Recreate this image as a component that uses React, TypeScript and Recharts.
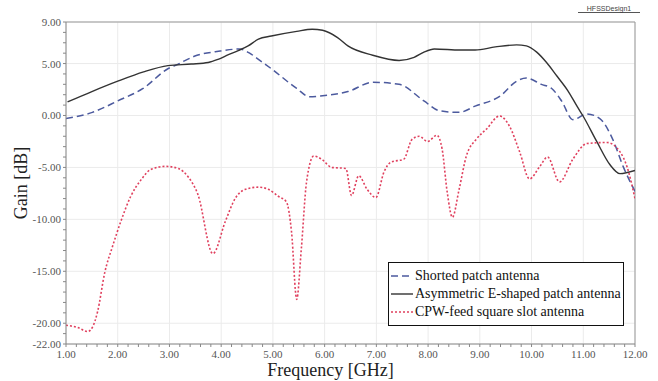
import { LineChart, Line, XAxis, YAxis, CartesianGrid, ReferenceLine } from 'recharts'

// Gain curves (GHz, dB)
const shortedFreq = [1.0, 1.51, 2.0, 2.49, 2.97, 3.17, 3.48, 3.98, 4.35, 4.55, 4.72, 4.97, 5.46, 5.71, 5.96, 6.45, 6.93, 7.44, 7.92, 8.22, 8.6, 8.91, 9.4, 9.71, 9.9, 10.19, 10.39, 10.58, 10.8, 11.07, 11.32, 11.57, 11.77, 12.0]
const shortedGain = [-0.3, 0.3, 1.4, 2.6, 4.5, 4.95, 5.7, 6.2, 6.4, 6.0, 5.4, 4.5, 2.6, 1.8, 1.9, 2.3, 3.2, 3.0, 1.4, 0.45, 0.3, 0.9, 1.9, 3.3, 3.6, 3.0, 2.6, 1.4, -0.4, 0.15, -0.3, -2.3, -4.9, -7.3]

const eShapedFreq = [1.03, 1.5, 2.0, 2.5, 2.97, 3.42, 3.75, 3.94, 4.14, 4.33, 4.52, 4.72, 4.97, 5.46, 5.76, 5.96, 6.25, 6.45, 6.93, 7.44, 7.73, 7.92, 8.12, 8.62, 8.91, 9.3, 9.71, 9.9, 10.1, 10.29, 10.49, 10.7, 10.89, 10.99, 11.26, 11.51, 11.71, 12.0]
const eShapedGain = [1.3, 2.3, 3.3, 4.2, 4.8, 4.95, 5.1, 5.4, 5.85, 6.25, 6.7, 7.35, 7.65, 8.1, 8.3, 8.2, 7.5, 6.7, 5.8, 5.3, 5.6, 6.1, 6.4, 6.3, 6.3, 6.6, 6.8, 6.7, 6.1, 5.1, 3.8, 2.4, 0.8, 0.0, -2.5, -4.7, -5.6, -5.3]

const cpwFreq = [1.0, 1.22, 1.42, 1.51, 1.61, 1.75, 1.9, 2.06, 2.25, 2.45, 2.64, 2.93, 3.17, 3.36, 3.55, 3.84, 4.08, 4.27, 4.47, 4.72, 4.91, 5.11, 5.26, 5.36, 5.46, 5.55, 5.65, 5.79, 5.94, 6.14, 6.41, 6.52, 6.66, 6.82, 6.99, 7.15, 7.28, 7.53, 7.69, 7.83, 7.99, 8.17, 8.27, 8.37, 8.47, 8.6, 8.74, 8.93, 9.13, 9.38, 9.57, 9.77, 9.96, 10.16, 10.31, 10.54, 10.8, 11.07, 11.46, 11.71, 11.85, 12.0]
const cpwGain = [-20.2, -20.4, -20.8, -20.4, -18.9, -15.1, -12.6, -10.2, -7.8, -6.2, -5.2, -4.9, -5.1, -5.9, -7.6, -13.3, -10.2, -8.0, -7.1, -6.9, -7.1, -7.8, -8.3, -11.2, -17.7, -12.8, -6.4, -3.9, -4.2, -5.0, -5.1, -7.7, -5.8, -7.1, -7.9, -5.4, -4.5, -4.2, -2.3, -2.0, -2.5, -1.9, -3.2, -7.4, -9.8, -7.1, -3.9, -2.3, -1.3, -0.05, -1.0, -3.5, -6.1, -4.9, -4.0, -6.4, -4.2, -2.7, -2.6, -3.5, -5.0, -8.0]

const xMajor = [1, 2, 3, 4, 5, 6, 7, 8, 9, 10, 11, 12]
const yMajor = [-22, -20, -15, -10, -5, 0, 5, 9]

// minor tick marks: 0.2 GHz and 1 dB
const xTicks = Array.from({ length: 56 }, (_, i) => (10 + 2 * i) / 10)
const yTicks = Array.from({ length: 32 }, (_, i) => -22 + i)

const toPoints = (fs: number[], gs: number[]) => fs.map((f, i) => ({ f, g: gs[i] }))

const series = [
  { name: 'Shorted patch antenna', data: toPoints(shortedFreq, shortedGain), color: '#4c5a9e', dash: '7 4', width: 1.5 },
  { name: 'Asymmetric E-shaped patch antenna', data: toPoints(eShapedFreq, eShapedGain), color: '#333333', dash: undefined, width: 1.4 },
  { name: 'CPW-feed square slot antenna', data: toPoints(cpwFreq, cpwGain), color: '#e0405e', dash: '2 2', width: 1.6 },
]

const serif = '"Liberation Serif", "Times New Roman", serif'
const tickText = { fontFamily: serif, fontSize: 11, fill: '#555' }

const XTick = ({ x, y, payload }: any) => {
  const v = payload.value as number
  if (!Number.isInteger(v)) return null
  return (
    <text x={x} y={y + 9} textAnchor="middle" style={tickText}>
      {v.toFixed(2)}
    </text>
  )
}

const YTick = ({ x, y, payload }: any) => {
  const v = payload.value as number
  if (!yMajor.includes(v)) return null
  return (
    <text x={x} y={y + 4} textAnchor="end" style={tickText}>
      {v.toFixed(2)}
    </text>
  )
}

export default function App() {
  return (
    <div style={{ position: 'absolute', left: 0, top: 0, width: 658, height: 381, background: '#fff', fontFamily: serif }}>
      <LineChart width={658} height={381} margin={{ top: 22, right: 23, bottom: 0, left: 0 }}>
        <CartesianGrid stroke="#ebebeb" horizontalValues={yMajor} verticalValues={xMajor} />
        <XAxis
          type="number"
          dataKey="f"
          domain={[1, 12]}
          ticks={xTicks}
          interval={0}
          tick={<XTick />}
          tickSize={3}
          tickMargin={2}
          stroke="#888"
          height={37}
          allowDataOverflow
          label={{ value: 'Frequency [GHz]', position: 'insideBottom', offset: 5, dx: -20, style: { fontSize: 18, fill: '#222', fontFamily: serif } }}
        />
        <YAxis
          type="number"
          domain={[-22, 9]}
          ticks={yTicks}
          interval={0}
          tick={<YTick />}
          tickSize={3}
          tickMargin={2}
          stroke="#888"
          width={66}
          allowDataOverflow
          label={{ value: 'Gain [dB]', angle: -90, position: 'center', dx: -12, style: { fontSize: 18, fill: '#222', fontFamily: serif } }}
        />
        <ReferenceLine y={9} stroke="#999" />
        <ReferenceLine x={12} stroke="#999" />
        {series.map(s => (
          <Line
            key={s.name}
            data={s.data}
            dataKey="g"
            name={s.name}
            type="monotone"
            stroke={s.color}
            strokeWidth={s.width}
            strokeDasharray={s.dash}
            dot={false}
            activeDot={false}
            isAnimationActive={false}
          />
        ))}
      </LineChart>

      <div style={{ position: 'absolute', left: 578, top: 5, width: 62, fontSize: 7, color: '#444', textAlign: 'center', borderBottom: '1px solid #555', fontFamily: 'Liberation Sans, Arial, sans-serif' }}>
        HFSSDesign1
      </div>

      <div style={{ position: 'absolute', left: 388, top: 262, width: 234, height: 58, border: '1.5px solid #111', background: '#fff', paddingTop: 4 }}>
        {series.map(s => (
          <div key={s.name} style={{ display: 'flex', alignItems: 'center', height: 18, fontSize: 14, color: '#111', whiteSpace: 'nowrap' }}>
            <svg width={22} height={10} style={{ marginLeft: 2, marginRight: 2 }}>
              <line x1={0} y1={5} x2={22} y2={5} stroke={s.color} strokeWidth={s.width} strokeDasharray={s.dash} />
            </svg>
            <span>{s.name}</span>
          </div>
        ))}
      </div>
    </div>
  )
}
